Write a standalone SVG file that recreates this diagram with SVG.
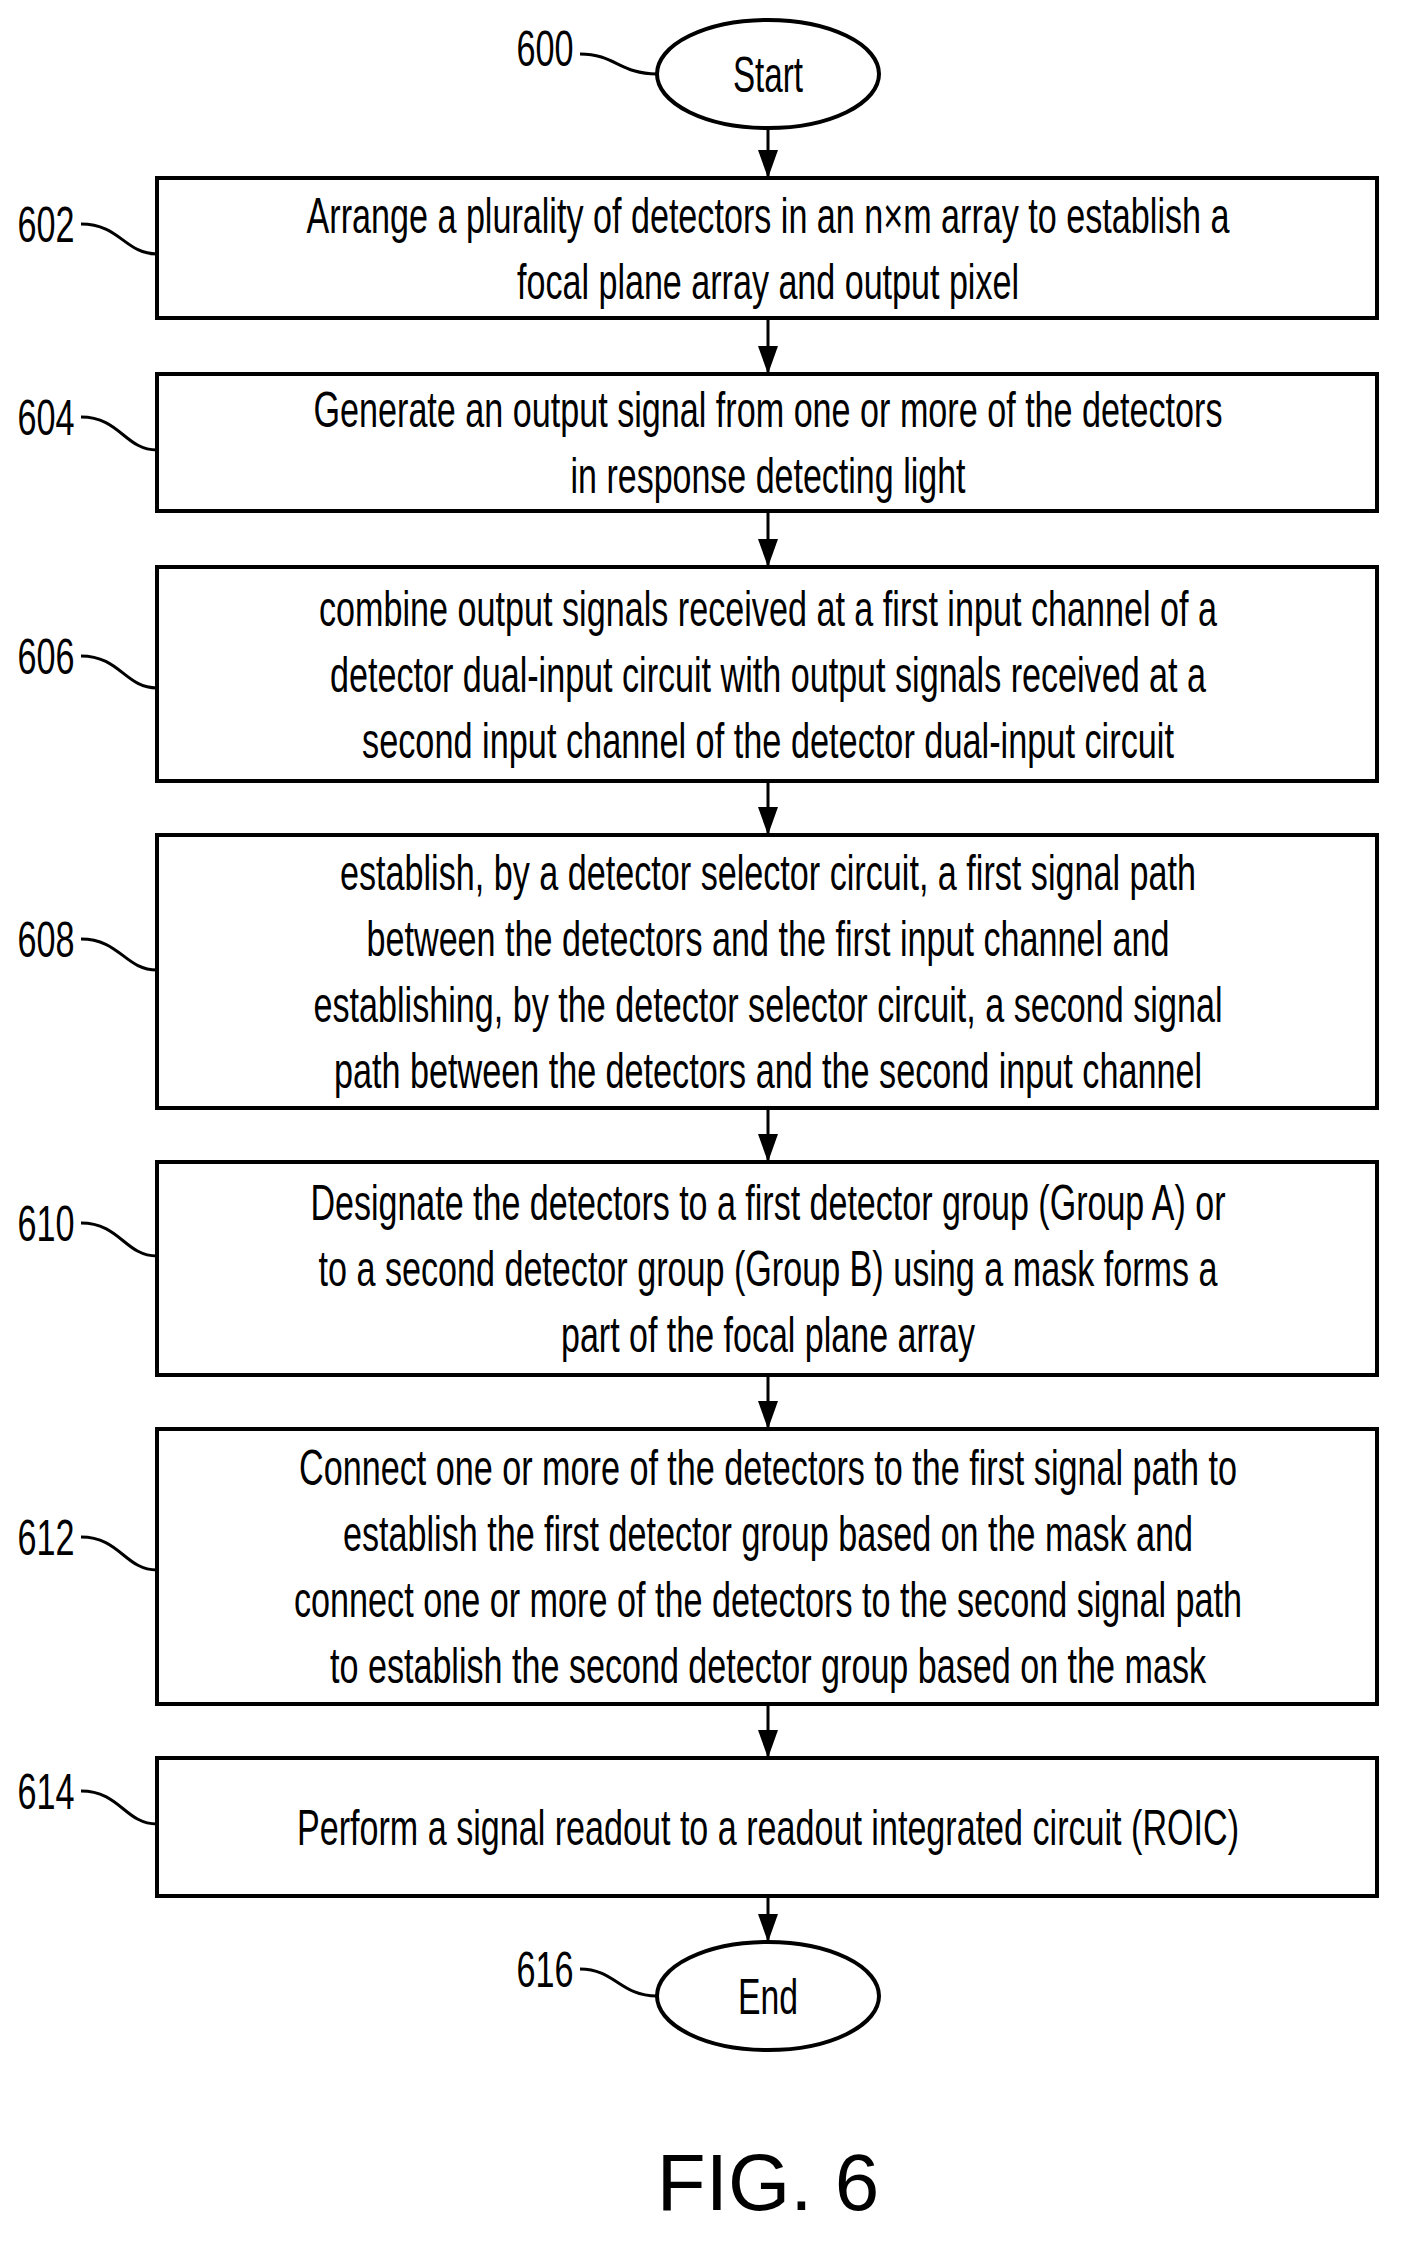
<svg xmlns="http://www.w3.org/2000/svg" width="1413" height="2258" viewBox="0 0 1413 2258">
<style>
rect,ellipse{fill:#fff;stroke:#000;stroke-width:4}
text{font-family:"Liberation Sans",Arial,sans-serif;font-size:50px;text-anchor:middle;fill:#000}
.lbl{font-size:50px}
.c{fill:none;stroke:#000;stroke-width:3}
.a{stroke:#000;stroke-width:3;marker-end:url(#ah)}
</style>
<defs><marker id="ah" markerWidth="28" markerHeight="20" refX="28" refY="10" orient="auto" markerUnits="userSpaceOnUse" viewBox="0 0 28 20"><path d="M0,0L28,10L0,20Z" fill="#000"/></marker></defs>
<g id="connectors">
<line class="a" x1="768" y1="128" x2="768" y2="178"/>
<line class="a" x1="768" y1="318" x2="768" y2="374"/>
<line class="a" x1="768" y1="511" x2="768" y2="567"/>
<line class="a" x1="768" y1="781" x2="768" y2="835"/>
<line class="a" x1="768" y1="1108" x2="768" y2="1162"/>
<line class="a" x1="768" y1="1375" x2="768" y2="1429"/>
<line class="a" x1="768" y1="1704" x2="768" y2="1758"/>
<line class="a" x1="768" y1="1896" x2="768" y2="1942"/>
<path class="c" d="M580,54C615,54 620,74 657,74"/>
<path class="c" d="M81,224C120,224 125,254 157,254"/>
<path class="c" d="M81,417C120,417 125,450 157,450"/>
<path class="c" d="M81,656C120,656 125,688 157,688"/>
<path class="c" d="M81,939C120,939 125,970 157,970"/>
<path class="c" d="M81,1223C120,1223 125,1256 157,1256"/>
<path class="c" d="M81,1537C120,1537 125,1570 157,1570"/>
<path class="c" d="M81,1791C120,1791 125,1824 157,1824"/>
<path class="c" d="M580,1969C615,1969 620,1996 657,1996"/>
</g>
<g id="n600"><ellipse cx="768" cy="74" rx="111" ry="54"/><text x="768" y="92" textLength="70" lengthAdjust="spacingAndGlyphs">Start</text><text class="lbl" x="545" y="66" textLength="57" lengthAdjust="spacingAndGlyphs">600</text></g>
<g id="n602"><rect x="157" y="178" width="1220" height="140"/><text x="768" y="233" textLength="923" lengthAdjust="spacingAndGlyphs">Arrange a plurality of detectors in an n×m array to establish a</text><text x="768" y="299" textLength="502" lengthAdjust="spacingAndGlyphs">focal plane array and output pixel</text><text class="lbl" x="46" y="242" textLength="57" lengthAdjust="spacingAndGlyphs">602</text></g>
<g id="n604"><rect x="157" y="374" width="1220" height="137"/><text x="768" y="427" textLength="909" lengthAdjust="spacingAndGlyphs">Generate an output signal from one or more of the detectors</text><text x="768" y="493" textLength="395" lengthAdjust="spacingAndGlyphs">in response detecting light</text><text class="lbl" x="46" y="435" textLength="57" lengthAdjust="spacingAndGlyphs">604</text></g>
<g id="n606"><rect x="157" y="567" width="1220" height="214"/><text x="768" y="626" textLength="898" lengthAdjust="spacingAndGlyphs">combine output signals received at a first input channel of a</text><text x="768" y="692" textLength="876" lengthAdjust="spacingAndGlyphs">detector dual-input circuit with output signals received at a</text><text x="768" y="758" textLength="812" lengthAdjust="spacingAndGlyphs">second input channel of the detector dual-input circuit</text><text class="lbl" x="46" y="674" textLength="57" lengthAdjust="spacingAndGlyphs">606</text></g>
<g id="n608"><rect x="157" y="835" width="1220" height="273"/><text x="768" y="890" textLength="856" lengthAdjust="spacingAndGlyphs">establish, by a detector selector circuit, a first signal path</text><text x="768" y="956" textLength="803" lengthAdjust="spacingAndGlyphs">between the detectors and the first input channel and</text><text x="768" y="1022" textLength="909" lengthAdjust="spacingAndGlyphs">establishing, by the detector selector circuit, a second signal</text><text x="768" y="1088" textLength="868" lengthAdjust="spacingAndGlyphs">path between the detectors and the second input channel</text><text class="lbl" x="46" y="957" textLength="57" lengthAdjust="spacingAndGlyphs">608</text></g>
<g id="n610"><rect x="157" y="1162" width="1220" height="213"/><text x="768" y="1220" textLength="915" lengthAdjust="spacingAndGlyphs">Designate the detectors to a first detector group (Group A) or</text><text x="768" y="1286" textLength="899" lengthAdjust="spacingAndGlyphs">to a second detector group (Group B) using a mask forms a</text><text x="768" y="1352" textLength="414" lengthAdjust="spacingAndGlyphs">part of the focal plane array</text><text class="lbl" x="46" y="1241" textLength="57" lengthAdjust="spacingAndGlyphs">610</text></g>
<g id="n612"><rect x="157" y="1429" width="1220" height="275"/><text x="768" y="1485" textLength="938" lengthAdjust="spacingAndGlyphs">Connect one or more of the detectors to the first signal path to</text><text x="768" y="1551" textLength="850" lengthAdjust="spacingAndGlyphs">establish the first detector group based on the mask and</text><text x="768" y="1617" textLength="948" lengthAdjust="spacingAndGlyphs">connect one or more of the detectors to the second signal path</text><text x="768" y="1683" textLength="876" lengthAdjust="spacingAndGlyphs">to establish the second detector group based on the mask</text><text class="lbl" x="46" y="1555" textLength="57" lengthAdjust="spacingAndGlyphs">612</text></g>
<g id="n614"><rect x="157" y="1758" width="1220" height="138"/><text x="768" y="1845" textLength="942" lengthAdjust="spacingAndGlyphs">Perform a signal readout to a readout integrated circuit (ROIC)</text><text class="lbl" x="46" y="1809" textLength="57" lengthAdjust="spacingAndGlyphs">614</text></g>
<g id="n616"><ellipse cx="768" cy="1996" rx="111" ry="54"/><text x="768" y="2014" textLength="60" lengthAdjust="spacingAndGlyphs">End</text><text class="lbl" x="545" y="1987" textLength="57" lengthAdjust="spacingAndGlyphs">616</text></g>
<text x="768" y="2210" style="font-size:80px">FIG. 6</text>
</svg>
